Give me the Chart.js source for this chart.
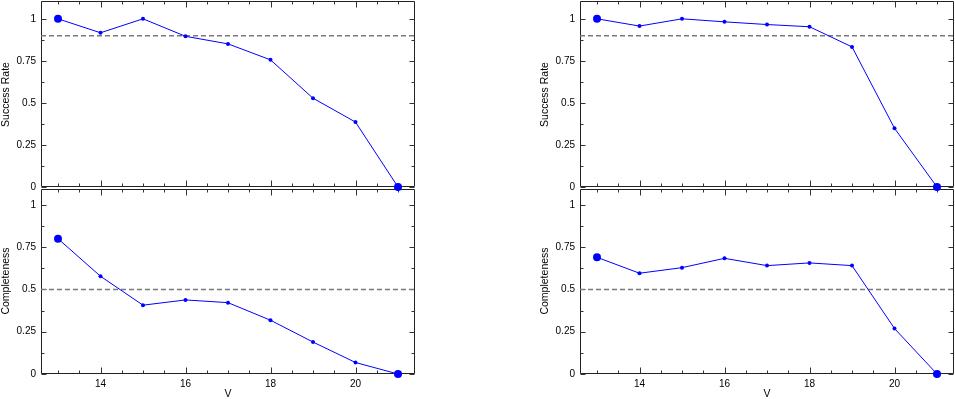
<!DOCTYPE html>
<html><head><meta charset="utf-8">
<script src="https://cdn.jsdelivr.net/npm/chart.js@4"></script>
<style>
html,body{margin:0;padding:0;background:#fff;overflow:hidden;width:955px;height:399px;position:relative}
canvas{position:absolute}
</style></head><body>
<canvas id="lb"></canvas>
<canvas id="rb"></canvas>
<canvas id="lt"></canvas>
<canvas id="rt"></canvas>
<script>
// ---- data ----
const magnitudes = [13, 14, 15, 16, 17, 18, 19, 20, 21];
const xTickLabels = [14, 16, 18, 20];
const yTickLabels = [0, 0.25, 0.5, 0.75, 1];
const successLeft = [1.0, 0.917, 1.0, 0.896, 0.851, 0.756, 0.528, 0.386, 0];
const completenessLeft = [0.8, 0.578, 0.407, 0.438, 0.422, 0.318, 0.189, 0.068, 0];
const successRight = [1.0, 0.957, 1.0, 0.982, 0.966, 0.953, 0.833, 0.349, 0];
const completenessRight = [0.69, 0.596, 0.629, 0.684, 0.641, 0.657, 0.641, 0.269, 0];
const successThreshold = [0.9];
const completenessThreshold = [0.5];
const xRange = [12.6, 21.4];
const yRange = [0, 1.1];

// ---- layout constants ----
const PAD = 10, YW = 41, XH = 26;
const FONT = "'Liberation Sans', Arial, Helvetica, sans-serif";

const framePlugin = {
  id: 'frame',
  beforeDatasetsDraw(chart, args, o) {
    const {ctx, chartArea: a, scales: {x, y}} = chart;
    const L = a.left + 0.5, R = a.right - 0.5;
    const T = a.top + o.topOff, B = a.bottom - 0.5;
    ctx.save();
    ctx.strokeStyle = '#222';
    ctx.lineWidth = 1;
    ctx.beginPath();
    ctx.moveTo(L, T); ctx.lineTo(R, T); ctx.lineTo(R, B); ctx.lineTo(L, B); ctx.closePath();
    ctx.stroke();
    ctx.strokeStyle = '#333';
    ctx.beginPath();
    // x ticks (top and bottom edges, inward)
    for (let v = Math.ceil(x.min * 2) / 2; v <= x.max + 1e-9; v += 0.5) {
      const px = Math.round(x.getPixelForValue(v)) + 0.5;
      const len = (xTickLabels.includes(v)) ? 6 : 3;
      ctx.moveTo(px, B); ctx.lineTo(px, B - len);
      ctx.moveTo(px, T); ctx.lineTo(px, T + len);
    }
    // y ticks (left and right edges, inward)
    for (let v = 0; v <= y.max + 1e-9; v += 0.125) {
      const py = Math.round(y.getPixelForValue(v)) + 0.5;
      const major = Math.abs(v * 4 - Math.round(v * 4)) < 1e-9;
      const len = major ? 5 : 3;
      ctx.moveTo(L, py); ctx.lineTo(L + len, py);
      ctx.moveTo(R, py); ctx.lineTo(R - len, py);
    }
    ctx.stroke();
    ctx.restore();
  }
};

function makePanel(id, pageLeft, pageTop, height, values, threshold, yTitle, showX, topOff) {
  const cv = document.getElementById(id);
  const W = 435;
  cv.width = W; cv.height = height;
  cv.style.left = pageLeft + 'px';
  cv.style.top = pageTop + 'px';
  cv.style.width = W + 'px'; cv.style.height = height + 'px';
  const n = magnitudes.length;
  new Chart(cv, {
    type: 'line',
    data: {
      datasets: [
        {
          data: magnitudes.map((m, i) => ({x: m, y: values[i]})),
          borderColor: '#0000ff',
          backgroundColor: '#0000ff',
          borderWidth: 1,
          pointBorderWidth: 0,
          pointRadius: c => (c.dataIndex === 0 || c.dataIndex === n - 1) ? 4 : 2,
          tension: 0,
          clip: false
        },
        {
          data: [{x: xRange[0], y: threshold[0]}, {x: xRange[1], y: threshold[0]}],
          borderColor: '#7a7a7a',
          borderWidth: 1.5,
          borderDash: [5, 3],
          pointRadius: 0,
          clip: false
        }
      ]
    },
    options: {
      responsive: false,
      animation: false,
      events: [],
      devicePixelRatio: 1,
      layout: {padding: PAD},
      plugins: {legend: {display: false}, tooltip: {enabled: false}, frame: {topOff: topOff}},
      scales: {
        x: {
          type: 'linear',
          min: xRange[0], max: xRange[1],
          display: showX,
          afterBuildTicks: s => { s.ticks = xTickLabels.map(v => ({value: v})); },
          afterFit: s => { s.height = showX ? XH : 0; },
          grid: {display: false, drawTicks: false},
          border: {display: false},
          ticks: {color: '#000', padding: 4, font: {family: FONT, size: 10}, maxRotation: 0, autoSkip: false,
                  callback: v => String(v)},
          title: {display: true, text: 'V', color: '#000', padding: {top: 0, bottom: 0}, font: {family: FONT, size: 10.5}}
        },
        y: {
          type: 'linear',
          min: yRange[0], max: yRange[1],
          afterBuildTicks: s => { s.ticks = yTickLabels.map(v => ({value: v})); },
          afterFit: s => { s.width = YW; },
          grid: {display: false, drawTicks: false},
          border: {display: false},
          ticks: {color: '#000', padding: 5, font: {family: FONT, size: 10}, autoSkip: false,
                  callback: v => String(v)},
          title: {display: true, text: yTitle, color: '#000', padding: {top: 0, bottom: 0}, font: {family: FONT, size: 10.5}}
        }
      }
    },
    plugins: [framePlugin]
  });
}

// top panels: chart area 1..188 ; bottom panels: 187..374
makePanel('lt', 41 - PAD - YW, 1 - PAD, 207, successLeft, successThreshold, 'Success Rate', false, -0.5);
makePanel('rt', 580 - PAD - YW, 1 - PAD, 207, successRight, successThreshold, 'Success Rate', false, -0.5);
makePanel('lb', 41 - PAD - YW, 187 - PAD, 233, completenessLeft, completenessThreshold, 'Completeness', true, 1.5);
makePanel('rb', 580 - PAD - YW, 187 - PAD, 233, completenessRight, completenessThreshold, 'Completeness', true, 1.5);
</script>
</body></html>
